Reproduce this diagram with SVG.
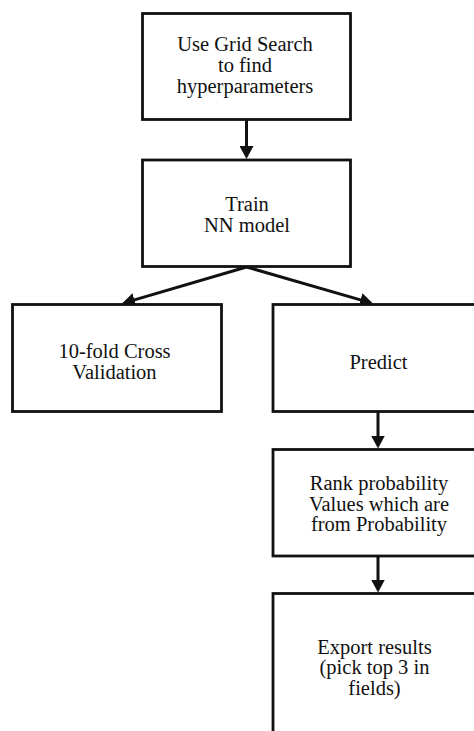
<svg xmlns="http://www.w3.org/2000/svg" width="474" height="731" viewBox="0 0 474 731">
  <defs>
    <style>
      .box { fill: #ffffff; stroke: #111111; stroke-width: 2.8; }
      .lbl { font-size: 20.5px; fill: #111111; text-anchor: middle; }
      .edge { fill: none; stroke: #111111; stroke-width: 3; marker-end: url(#head); }
    </style>
    <marker id="head" markerUnits="userSpaceOnUse" markerWidth="14" markerHeight="14" refX="8" refY="7" orient="auto">
      <path d="M0,0 L13,7 L0,14 Z" fill="#111111"/>
    </marker>
  </defs>
  <rect width="474" height="731" fill="#ffffff"/>

  <!-- connectors -->
  <g id="connectors">
    <path class="edge" d="M246.5,120 L246.5,154"/>
    <path class="edge" d="M246.5,267 L126.8,302.1"/>
    <path class="edge" d="M246.5,267 L368.2,302.1"/>
    <path class="edge" d="M378,412 L378,443.5"/>
    <path class="edge" d="M378,556 L378,587.5"/>
  </g>

  <g font-family="Liberation Serif, Times New Roman, serif">
    <g id="grid-search">
      <rect class="box" x="142.5" y="13.5" width="208" height="106"/>
      <text class="lbl" x="245" y="50.8">Use Grid Search</text>
      <text class="lbl" x="245" y="72">to find</text>
      <text class="lbl" x="245" y="93.3">hyperparameters</text>
    </g>

    <g id="train">
      <rect class="box" x="142.5" y="160" width="208" height="106.5"/>
      <text class="lbl" x="247" y="210.5">Train</text>
      <text class="lbl" x="247" y="232">NN model</text>
    </g>

    <g id="cross-validation">
      <rect class="box" x="12.5" y="304.5" width="209" height="107"/>
      <text class="lbl" x="114.5" y="358">10-fold Cross</text>
      <text class="lbl" x="114.5" y="379">Validation</text>
    </g>

    <g id="predict">
      <rect class="box" x="273" y="304.5" width="212" height="107"/>
      <text class="lbl" x="378.5" y="369">Predict</text>
    </g>

    <g id="rank">
      <rect class="box" x="273" y="449.5" width="212" height="106.5"/>
      <text class="lbl" x="379" y="489.5">Rank probability</text>
      <text class="lbl" x="379" y="510.5">Values which are</text>
      <text class="lbl" x="379" y="531">from Probability</text>
    </g>

    <g id="export">
      <rect class="box" x="273" y="593.5" width="212" height="200"/>
      <text class="lbl" x="374.5" y="653.5">Export results</text>
      <text class="lbl" x="374.5" y="674">(pick top 3 in</text>
      <text class="lbl" x="374.5" y="694.5">fields)</text>
    </g>
  </g>
</svg>
